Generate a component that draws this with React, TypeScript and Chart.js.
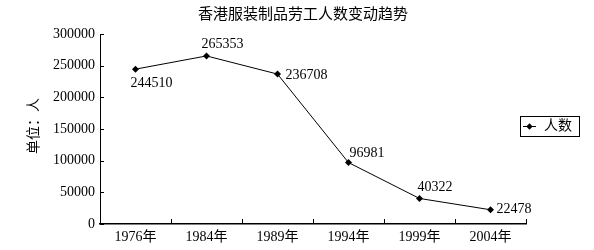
import { useEffect, useRef } from 'react';
import { Chart, registerables } from 'chart.js';

Chart.register(...registerables);

const chartTitle = '香港服装制品劳工人数变动趋势';
const yAxisTitle = '单位：人';
const seriesName = '人数';
const years = ['1976年', '1984年', '1989年', '1994年', '1999年', '2004年'];
const workers = [244510, 265353, 236708, 96981, 40322, 22478];
const yMin = 0;
const yMax = 300000;
const yStep = 50000;

const FONT = "'Liberation Serif', 'Noto Sans CJK SC', serif";

const tickMarksPlugin = {
  id: 'insideTicks',
  afterDraw(chart: any) {
    const { ctx } = chart;
    const xs = chart.scales.x;
    const ys = chart.scales.y;
    ctx.save();
    ctx.strokeStyle = '#000';
    ctx.lineWidth = 1;
    ctx.beginPath();
    ys.ticks.forEach((t: any) => {
      const py = Math.round(ys.getPixelForValue(t.value)) + 0.5;
      ctx.moveTo(ys.right, py);
      ctx.lineTo(ys.right + 4, py);
    });
    for (let i = 0; i <= years.length; i++) {
      const px = Math.round(xs.getPixelForValue(i - 0.5)) + 0.5;
      ctx.moveTo(px, xs.top);
      ctx.lineTo(px, xs.top - 5);
    }
    ctx.stroke();
    ctx.restore();
  },
};

const titlesPlugin = {
  id: 'titles',
  afterDraw(chart: any) {
    const { ctx } = chart;
    ctx.save();
    ctx.fillStyle = '#000';
    ctx.font = `15px ${FONT}`;
    ctx.textAlign = 'center';
    ctx.textBaseline = 'middle';
    ctx.fillText(chartTitle, 303, 15);
    ctx.font = `14px ${FONT}`;
    ctx.translate(34, 126);
    ctx.rotate(-Math.PI / 2);
    ctx.fillText(yAxisTitle, 0, 0);
    ctx.restore();
  },
};

const valueLabelsPlugin = {
  id: 'valueLabels',
  afterDatasetsDraw(chart: any) {
    const { ctx } = chart;
    const meta = chart.getDatasetMeta(0);
    const offsets = [
      [-5, 14],
      [-5, -12],
      [8, 1],
      [1, -9.5],
      [-2, -11.5],
      [6, 0],
    ];
    ctx.save();
    ctx.fillStyle = '#000';
    ctx.font = `14px ${FONT}`;
    ctx.textAlign = 'left';
    ctx.textBaseline = 'middle';
    meta.data.forEach((el: any, i: number) => {
      const [dx, dy] = offsets[i] || [0, -10];
      ctx.fillText(String(workers[i]), el.x + dx, el.y + dy);
    });
    ctx.restore();
  },
};

const legendPlugin = {
  id: 'boxLegend',
  afterDraw(chart: any) {
    const { ctx } = chart;
    const bx = chart.width - 74;
    const by = 116;
    const bw = 59;
    const bh = 20;
    ctx.save();
    ctx.strokeStyle = '#000';
    ctx.lineWidth = 1;
    ctx.strokeRect(bx + 0.5, by + 0.5, bw, bh);
    const ly = by + bh / 2 + 0.5;
    ctx.beginPath();
    ctx.moveTo(bx + 3, ly);
    ctx.lineTo(bx + 16, ly);
    ctx.stroke();
    const cx = bx + 9.5;
    const r = 3.2;
    ctx.fillStyle = '#000';
    ctx.beginPath();
    ctx.moveTo(cx, ly - r);
    ctx.lineTo(cx + r, ly);
    ctx.lineTo(cx, ly + r);
    ctx.lineTo(cx - r, ly);
    ctx.closePath();
    ctx.fill();
    ctx.font = `14px ${FONT}`;
    ctx.textAlign = 'left';
    ctx.textBaseline = 'middle';
    ctx.fillText(seriesName, bx + 24, ly);
    ctx.restore();
  },
};

export default function App() {
  const ref = useRef<HTMLCanvasElement | null>(null);

  useEffect(() => {
    document.body.style.margin = '0';
    if (!ref.current) return;
    const chart = new Chart(ref.current, {
      type: 'line',
      data: {
        labels: years,
        datasets: [
          {
            label: seriesName,
            data: workers,
            borderColor: '#000',
            backgroundColor: '#000',
            borderWidth: 1,
            pointStyle: 'rectRot',
            pointRadius: 3.5,
            pointBackgroundColor: '#000',
            pointBorderColor: '#000',
            pointBorderWidth: 0,
            tension: 0,
            fill: false,
          },
        ],
      },
      options: {
        responsive: false,
        animation: false,
        devicePixelRatio: 1,
        layout: { padding: { left: 0, right: 68, top: 34, bottom: 0 } },
        plugins: {
          legend: { display: false },
          tooltip: { enabled: false },
          title: { display: false },
        },
        scales: {
          x: {
            type: 'category',
            offset: true,
            grid: { display: true, drawOnChartArea: false, drawTicks: false },
            border: { display: true, color: '#000', width: 1.5 },
            ticks: {
              color: '#000',
              font: { family: FONT, size: 14 },
              padding: 5,
              maxRotation: 0,
              autoSkip: false,
            },
            afterFit(scale: any) {
              scale.height = 26;
            },
          },
          y: {
            min: yMin,
            max: yMax,
            grid: { display: true, drawOnChartArea: false, drawTicks: false },
            border: { display: true, color: '#000', width: 1 },
            ticks: {
              stepSize: yStep,
              color: '#000',
              font: { family: FONT, size: 14 },
              padding: 5,
              callback: (v: any) => String(v),
            },
            afterFit(scale: any) {
              scale.width = 100;
            },
          },
        },
      },
      plugins: [tickMarksPlugin, titlesPlugin, valueLabelsPlugin, legendPlugin],
    });
    return () => chart.destroy();
  }, []);

  return (
    <div style={{ width: 594, height: 250 }}>
      <canvas ref={ref} width={594} height={250} />
    </div>
  );
}
